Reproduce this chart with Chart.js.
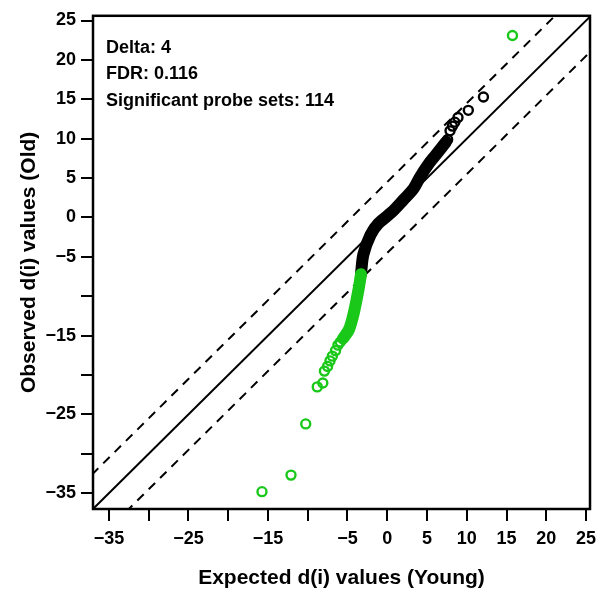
<!DOCTYPE html>
<html>
<head>
<meta charset="utf-8">
<script src="https://cdn.jsdelivr.net/npm/chart.js@4.4.0/dist/chart.umd.min.js"></script>
<style>
  body { margin: 0; background: #fff; }
  #wrap { width: 605px; height: 592px; }
</style>
</head>
<body>
<div id="wrap"><canvas id="samPlot" width="605" height="592"></canvas></div>
<script>
// axis ticks (R drops some labels when they would overlap)
const xTickValues = [-35, -30, -25, -20, -15, -10, -5, 0, 5, 10, 15, 20, 25];
const xTickLabels = ['\u221235', '', '\u221225', '', '\u221215', '', '\u22125', '0', '5', '10', '15', '20', '25'];
const yTickValues = [-35, -30, -25, -20, -15, -10, -5, 0, 5, 10, 15, 20, 25];
const yTickLabels = ['\u221235', '', '\u221225', '', '\u221215', '', '\u22125', '0', '5', '10', '15', '20', '25'];

const notes = ['Delta: 4', 'FDR: 0.116', 'Significant probe sets: 114'];

// reference line y = x and the two delta bands
const identityLine = [{x: -37, y: -37}, {x: 25.5, y: 25.5}];
const upperBand = [{x: -40, y: -35.5}, {x: 30, y: 34.5}];
const lowerBand = [{x: -40, y: -44.5}, {x: 30, y: 25.5}];

// non-significant genes: dense part (overlapping circles) and the separate ones
const blackDense = [
  {x: -3.3, y: -7.2}, {x: -3.0, y: -4.7}, {x: -2.1, y: -2.2}, {x: -1.1, y: -0.75},
  {x: 0.6, y: 0.7}, {x: 2.0, y: 2.2}, {x: 3.3, y: 3.65}, {x: 4.1, y: 5.1},
  {x: 5.2, y: 6.8}, {x: 6.2, y: 8.05}, {x: 7.4, y: 9.6}
];
const blackPoints = [
  {x: 7.6, y: 9.9}, {x: 7.9, y: 11.0}, {x: 8.2, y: 11.6}, {x: 8.5, y: 12.1},
  {x: 8.9, y: 12.7}, {x: 10.2, y: 13.6}, {x: 12.1, y: 15.3}
];

// significant genes
const greenDense = [
  {x: -3.3, y: -7.2}, {x: -3.6, y: -9.1}, {x: -4.2, y: -12.1}, {x: -4.8, y: -14.2},
  {x: -5.5, y: -15.3}
];
const greenPoints = [
  {x: -5.6, y: -15.4}, {x: -5.9, y: -15.8}, {x: -6.2, y: -16.2}, {x: -6.5, y: -16.9},
  {x: -6.9, y: -17.6}, {x: -7.2, y: -18.2}, {x: -7.5, y: -18.9}, {x: -7.9, y: -19.5},
  {x: -8.1, y: -21.0}, {x: -8.8, y: -21.5}, {x: -10.25, y: -26.2}, {x: -12.1, y: -32.7},
  {x: -15.75, y: -34.8}, {x: 15.75, y: 23.1}
];

const GREEN = '#19c819';
const FONT = '"Liberation Sans", Arial, sans-serif';

Chart.defaults.color = '#000';
Chart.defaults.font.family = FONT;

const framePlugin = {
  id: 'frame',
  afterDraw(chart) {
    const {ctx, chartArea: a} = chart;
    ctx.save();
    ctx.strokeStyle = '#000';
    ctx.lineWidth = 2.5;
    ctx.strokeRect(a.left, a.top, a.right - a.left, a.bottom - a.top);
    ctx.fillStyle = '#000';
    ctx.font = 'bold 18px ' + FONT;
    ctx.textBaseline = 'middle';
    notes.forEach((t, i) => ctx.fillText(t, a.left + 13, a.top + 32 + i * 26.5));
    ctx.restore();
  }
};

const openCircles = (data, color) => ({
  type: 'scatter',
  data: data,
  borderColor: color,
  backgroundColor: 'transparent',
  pointRadius: 4.5,
  pointBorderWidth: 2.4,
  showLine: false
});

const thickTrail = (data, color) => ({
  type: 'line',
  data: data,
  borderColor: color,
  borderWidth: 12,
  borderCapStyle: 'round',
  borderJoinStyle: 'round',
  tension: 0.3,
  pointRadius: 0,
  fill: false
});

const refLine = (data, dash) => ({
  type: 'line',
  data: data,
  borderColor: '#000',
  borderWidth: 2,
  borderDash: dash,
  pointRadius: 0,
  fill: false
});

new Chart(document.getElementById('samPlot'), {
  type: 'scatter',
  data: {
    datasets: [
      openCircles(greenPoints, GREEN),
      thickTrail(greenDense, GREEN),
      openCircles(blackPoints, '#000'),
      thickTrail(blackDense, '#000'),
      refLine(identityLine, []),
      refLine(upperBand, [9, 7]),
      refLine(lowerBand, [9, 7])
    ]
  },
  options: {
    responsive: false,
    animation: false,
    events: [],
    layout: { padding: { left: 0, right: 15, top: 11, bottom: 0 } },
    plugins: {
      legend: { display: false },
      tooltip: { enabled: false }
    },
    scales: {
      x: {
        type: 'linear',
        min: -37,
        max: 25.5,
        afterFit: (scale) => { scale.height = 83; },
        afterBuildTicks: (scale) => { scale.ticks = xTickValues.map(v => ({value: v})); },
        border: { display: false },
        grid: { drawOnChartArea: false, tickLength: 12, lineWidth: 2, tickWidth: 2, color: '#000', tickColor: '#000' },
        ticks: {
          padding: 7,
          maxRotation: 0,
          autoSkip: false,
          font: { size: 18, weight: 'bold' },
          callback: (v, i) => xTickLabels[i]
        },
        title: {
          display: true,
          text: 'Expected d(i) values (Young)',
          font: { size: 21, weight: 'bold' },
          padding: { top: 4, bottom: 1 }
        }
      },
      y: {
        type: 'linear',
        min: -37,
        max: 25.6,
        afterFit: (scale) => { scale.width = 93; },
        afterBuildTicks: (scale) => { scale.ticks = yTickValues.map(v => ({value: v})); },
        border: { display: false },
        grid: { drawOnChartArea: false, tickLength: 12, lineWidth: 2, tickWidth: 2, color: '#000', tickColor: '#000' },
        ticks: {
          padding: 5,
          autoSkip: false,
          font: { size: 18, weight: 'bold' },
          callback: (v, i) => yTickLabels[i]
        },
        title: {
          display: true,
          text: 'Observed d(i) values (Old)',
          font: { size: 21, weight: 'bold' },
          padding: { top: 17, bottom: 4 }
        }
      }
    }
  },
  plugins: [framePlugin]
});
</script>
</body>
</html>
